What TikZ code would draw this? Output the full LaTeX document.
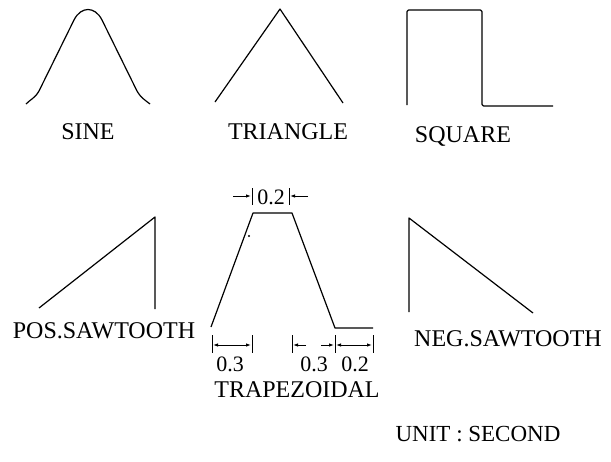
\documentclass[tikz,border=0pt]{standalone}
\usepackage{fontspec}
\setmainfont{Liberation Serif}
\usetikzlibrary{arrows.meta}
\begin{document}
\begin{tikzpicture}[x=1pt,y=-1pt,
  wave/.style={line width=1.2pt,line join=round},
  lbl/.style={inner sep=0pt,font=\fontsize{24}{28}\selectfont},
  num/.style={inner sep=0pt,font=\fontsize{22}{24}\selectfont},
  tick/.style={line width=0.9pt},
  dim/.style={line width=0.9pt,-{Latex[length=5pt,width=3.5pt]}},
  dimboth/.style={line width=0.9pt,{Latex[length=5pt,width=3.5pt]}-{Latex[length=5pt,width=3.5pt]}}]
\useasboundingbox (0,0) rectangle (611,461);

% sine pulse
\draw[wave] (26,104) .. controls (31,99) and (35,98) .. (39,91)
  -- (74,20) .. controls (81,6) and (95,6) .. (102,20)
  -- (137,91) .. controls (141,98) and (145,100) .. (150,104);
\node[lbl] (sine) at (88,132) {SINE};

% triangle
\draw[wave] (215,102) -- (280,9) -- (343,103);
\node[lbl] (tri) at (288,132) {TRIANGLE};

% square
\draw[wave,rounded corners=1.5pt] (407,105) -- (407,10) -- (482,10) -- (482,106) -- (553,106);
\node[lbl] (sq) at (463,136) {SQUARE};

% positive sawtooth
\draw[wave] (39,308) -- (155,217) -- (155,309);
\node[lbl] (pos) at (104,331) {POS.SAWTOOTH};

% negative sawtooth
\draw[wave] (409,312) -- (409,218) -- (533,313);
\node[lbl] (neg) at (508,339) {NEG.SAWTOOTH};

% trapezoid
\coordinate (t0) at (211,327);
\coordinate (t1) at (253,213);
\coordinate (t2) at (292,213);
\coordinate (t3) at (335,328);
\coordinate (t4) at (373,328);
\draw[wave] (t0) -- (t1) -- (t2) -- (t3) -- (t4);
\fill (249,236) circle (1.2pt);

% top dimension 0.2
\draw[tick] (252,188) -- (252,205);
\draw[tick] (289,188) -- (289,205);
\draw[dim] (233,196) -- (251,196);
\draw[dim] (308,196) -- (290,196);
\node[num] (d02top) at (271,197) {0.2};

% bottom dimensions
\foreach \x in {212,252,292,335,373}
  \draw[tick] (\x,335) -- (\x,353);
\draw[dimboth] (213,345) -- (251,345);
\draw[dim] (306,345) -- (293,345);
\draw[dim] (321,345) -- (334,345);
\draw[dimboth] (336,345) -- (372,345);
\node[num] (d03a) at (230,364) {0.3};
\node[num] (d03b) at (314,364) {0.3};
\node[num] (d02b) at (355,364) {0.2};
\node[lbl] (trap) at (297,390) {TRAPEZOIDAL};

\node[lbl,font=\fontsize{23}{28}\selectfont] (unit) at (478,434) {UNIT : SECOND};
\end{tikzpicture}
\end{document}
